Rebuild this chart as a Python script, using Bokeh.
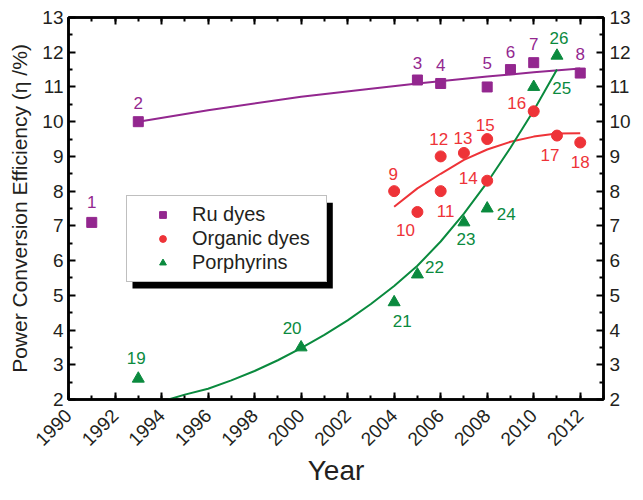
from math import pi
from bokeh.plotting import figure
from bokeh.models import (ColumnDataSource, LinearAxis, Range1d, FixedTicker,
                          Legend, LegendItem, BoxAnnotation)
from bokeh.core.properties import value
from bokeh.embed import file_html
from bokeh.resources import INLINE

# ---------------- data ----------------
ru_year = [1991, 1993, 2005, 2006, 2008, 2009, 2010, 2012]
ru_eff = [7.1, 10.0, 11.2, 11.1, 11.0, 11.5, 11.7, 11.4]
ru_ids = ["1", "2", "3", "4", "5", "6", "7", "8"]

org_year = [2004, 2005, 2006, 2006, 2007, 2008, 2008, 2010, 2011, 2012]
org_eff = [8.0, 7.4, 8.0, 9.0, 9.1, 8.3, 9.5, 10.3, 9.6, 9.4]
org_ids = ["9", "10", "11", "12", "13", "14", "15", "16", "17", "18"]

por_year = [1993, 2000, 2004, 2005, 2007, 2008, 2010, 2011]
por_eff = [2.6, 3.5, 4.8, 5.6, 7.1, 7.5, 11.0, 11.9]
por_ids = ["19", "20", "21", "22", "23", "24", "25", "26"]

# trend curves, points
ru_fit_year = [1993, 1996, 2000, 2003, 2005, 2008, 2010, 2012]
ru_fit_eff = [10.0, 10.33, 10.72, 10.95, 11.1, 11.3, 11.42, 11.53]

org_fit_year = [2004, 2005, 2006, 2007, 2008, 2009, 2010, 2011, 2012]
org_fit_eff = [7.55, 8.08, 8.5, 8.9, 9.2, 9.42, 9.57, 9.66, 9.67]

por_fit_year = [1994.3, 1995, 1996, 1997, 1998, 1999, 2000, 2001, 2002, 2003,
                2004, 2005, 2006, 2007, 2008, 2009, 2010, 2011]
por_fit_eff = [2.0, 2.14, 2.31, 2.55, 2.82, 3.13, 3.48, 3.86, 4.28, 4.75,
               5.27, 5.85, 6.55, 7.35, 8.25, 9.25, 10.32, 11.5]

# axis ticks
x_major = [1990, 1992, 1994, 1996, 1998, 2000, 2002, 2004, 2006, 2008, 2010, 2012]
x_minor = [1990, 1991, 1992, 1993, 1994, 1995, 1996, 1997, 1998, 1999, 2000, 2001,
           2002, 2003, 2004, 2005, 2006, 2007, 2008, 2009, 2010, 2011, 2012, 2013]
y_major = [2, 3, 4, 5, 6, 7, 8, 9, 10, 11, 12, 13]
y_minor = [2.5, 3.5, 4.5, 5.5, 6.5, 7.5, 8.5, 9.5, 10.5, 11.5, 12.5]

# label placement (screen px offsets of the point numbers)
ru_dx = [0, 0, 0, 0, 0, 0, 0, 0]
ru_dy = [-20, -19, -17, -18, -24, -18, -19, -19]
org_dx = [-1, -12, 5, -2, -1, -19, -2, -17, -7, 0]
org_dy = [-17, 18, 20, -17, -15, -3, -14, -8, 19, 19]
por_dx = [-2, -9, 8, 17, 2, 19, 28, 2]
por_dy = [-21, -19, 19, -7, 17, 5, 1, -18]

# ---------------- styles ----------------
FONT = "Liberation Sans"
PURPLE = "#93278f"
RED = "#ee3338"
GREEN = "#0a8a3e"
TXT = "#231f20"

p = figure(width=633, height=488, output_backend="svg", toolbar_location=None,
           x_range=Range1d(1990, 2013), y_range=Range1d(2, 13),
           x_axis_location=None, y_axis_location=None,
           min_border_left=68, min_border_right=29, min_border_top=17,
           min_border_bottom=89)
p.xgrid.visible = False
p.ygrid.visible = False
p.outline_line_color = "black"
p.outline_line_width = 2.5
p.background_fill_color = "white"
p.border_fill_color = "white"


def style_axis(ax, major, minor):
    ax.ticker = FixedTicker(ticks=major, minor_ticks=minor)
    ax.axis_line_color = "black"
    ax.axis_line_width = 2.5
    ax.major_tick_in = 7
    ax.major_tick_out = 0
    ax.minor_tick_in = 4
    ax.minor_tick_out = 0
    ax.major_tick_line_color = "black"
    ax.minor_tick_line_color = "black"
    ax.major_tick_line_width = 2
    ax.minor_tick_line_width = 2
    ax.major_label_text_font = FONT
    ax.major_label_text_color = TXT
    ax.major_label_text_font_size = "19px"
    ax.axis_label_text_font = FONT
    ax.axis_label_text_font_style = "normal"
    ax.axis_label_text_color = TXT


left = LinearAxis(axis_label="Power Conversion Efficiency (η /%)")
style_axis(left, y_major, y_minor)
left.major_label_standoff = 5
left.axis_label_standoff = 8
left.axis_label_text_font_size = "21px"
p.add_layout(left, "left")

right = LinearAxis()
style_axis(right, y_major, y_minor)
right.major_label_standoff = 6
p.add_layout(right, "right")

bottom = LinearAxis(axis_label="Year")
style_axis(bottom, x_major, x_minor)
bottom.major_label_orientation = pi / 4
bottom.major_label_standoff = 13
bottom.axis_label_standoff = 0
bottom.axis_label_text_font_size = "28px"
p.add_layout(bottom, "below")

top = LinearAxis()
style_axis(top, x_major, x_minor)
top.major_label_overrides = {t: "" for t in x_major}
top.major_label_standoff = 0
p.add_layout(top, "above")

# trend lines
p.line(ru_fit_year, ru_fit_eff, line_color=PURPLE, line_width=2)
p.line(org_fit_year, org_fit_eff, line_color=RED, line_width=2)
p.line(por_fit_year, por_fit_eff, line_color=GREEN, line_width=2)

# points
ru_src = ColumnDataSource(dict(x=ru_year, y=ru_eff, t=ru_ids, dx=ru_dx, dy=ru_dy))
org_src = ColumnDataSource(dict(x=org_year, y=org_eff, t=org_ids, dx=org_dx, dy=org_dy))
por_src = ColumnDataSource(dict(x=por_year, y=por_eff, t=por_ids, dx=por_dx, dy=por_dy))

r_ru = p.scatter("x", "y", source=ru_src, marker="square", size=10,
                 fill_color=PURPLE, line_color=PURPLE)
r_org = p.scatter("x", "y", source=org_src, marker="circle", size=11,
                  fill_color=RED, line_color=RED)
r_por = p.scatter("x", "y", source=por_src, marker="triangle", size=12,
                  fill_color=GREEN, line_color=GREEN)

for src, col in ((ru_src, PURPLE), (org_src, RED), (por_src, GREEN)):
    p.text(x="x", y="y", text="t", x_offset="dx", y_offset="dy", source=src,
           text_align="center", text_baseline="middle",
           text_font=value(FONT), text_font_size="17px", text_color=col)

# legend with drop shadow
shadow = BoxAnnotation(left=64, right=264.3, bottom=111, top=196.7,
                       left_units="screen", right_units="screen",
                       bottom_units="screen", top_units="screen",
                       fill_color="black", fill_alpha=1.0, line_color=None)
p.add_layout(shadow)

legend = Legend(items=[LegendItem(label="Ru dyes", renderers=[r_ru]),
                       LegendItem(label="Organic dyes", renderers=[r_org]),
                       LegendItem(label="Porphyrins", renderers=[r_por])],
                location=(58, 117), padding=7, spacing=1, margin=0,
                glyph_width=57, glyph_height=17, label_standoff=1,
                label_width=127, label_height=20,
                label_text_font=FONT, label_text_font_size="20px",
                label_text_color=TXT,
                border_line_color="#808080", border_line_width=1,
                background_fill_color="white", background_fill_alpha=1.0)
p.add_layout(legend, "center")

open("out.html", "w").write(file_html(p, INLINE))
